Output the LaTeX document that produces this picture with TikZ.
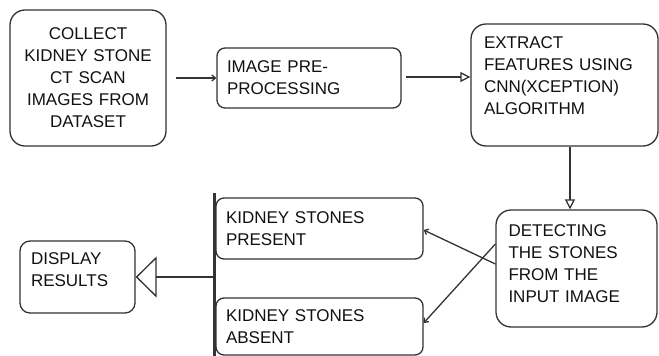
\documentclass[tikz,border=0pt]{standalone}
\usepackage{fontspec}
\setmainfont{Liberation Sans}
\usetikzlibrary{arrows.meta}
\newcommand\lowdepth[1]{\rule[-#1]{0pt}{#1}}
\definecolor{ink}{HTML}{333333}
\definecolor{txt}{HTML}{111111}
\begin{document}
\begin{tikzpicture}[x=1pt,y=-1pt,
  box/.style={draw=ink, line width=1.3pt, text=txt, align=left,
    font=\fontsize{17}{22}\selectfont, inner ysep=0pt},
  conn/.style={draw=ink, line width=1.3pt},
  smalltip/.style={-{Straight Barb[length=3.5pt,width=6pt]}},
  opentip/.style={-{Triangle[open,length=10pt,width=10pt]}}]
\useasboundingbox (0,0) rectangle (659,356);
\node[box, align=center, rounded corners=15pt, minimum width=156pt, minimum height=136pt,
  inner xsep=6pt, text width=144pt] (collect) at (88,78)
  {COLLECT\\KIDNEY STONE\\CT SCAN\\IMAGES FROM\\DATASET};
\node[box, rounded corners=8pt, minimum width=184pt, minimum height=60pt,
  inner xsep=10pt, text width=164pt] (pre) at (309,78)
  {IMAGE PRE-\\PROCESSING};
\node[box, rounded corners=15pt, minimum width=187pt, minimum height=122pt,
  inner xsep=13pt, text width=161pt] (extract) at (564.5,85)
  {EXTRACT\\FEATURES USING\\CNN(XCEPTION)\\ALGORITHM\lowdepth{18.6pt}};
\node[box, rounded corners=15pt, minimum width=161pt, minimum height=117pt,
  inner xsep=12.5pt, text width=136pt] (detect) at (576.5,268.5)
  {DETECTING\\THE STONES\\FROM THE\\INPUT IMAGE\lowdepth{10.6pt}};
\node[box, rounded corners=8pt, minimum width=207pt, minimum height=61pt,
  inner xsep=10pt, text width=187pt] (present) at (319.5,228.5)
  {KIDNEY STONES\\PRESENT};
\node[box, rounded corners=8pt, minimum width=207pt, minimum height=57pt,
  inner xsep=10pt, text width=187pt] (absent) at (319.5,326.5)
  {KIDNEY STONES\\ABSENT};
\node[box, rounded corners=10pt, minimum width=115pt, minimum height=72pt,
  inner xsep=11pt, text width=93pt] (display) at (77.5,277)
  {DISPLAY\\RESULTS\lowdepth{15.6pt}};
\coordinate (bartop) at (214,193);
\coordinate (barbot) at (214,356);
\coordinate (barmid) at (214,277);
\draw[conn, smalltip] ([xshift=9pt]collect.east) -- (pre.west);
\draw[conn, opentip] ([xshift=4pt,yshift=1pt]pre.east) -- ([yshift=1pt]pre.east -| extract.west);
\draw[conn, opentip] ([xshift=5.5pt]extract.south) -- ([xshift=-6.5pt]detect.north);
\draw[conn, smalltip] ([yshift=4.5pt]detect.west) -- ([yshift=-1.5pt]present.east);
\draw[conn, smalltip] ([yshift=24.5pt]detect.west) -- ([yshift=3.5pt]absent.east);
\draw[draw=ink, line width=3pt] (bartop) -- (barbot);
\draw[conn, -{Triangle[open,length=21pt,width=41pt]}] (barmid) -- (display.east);
\end{tikzpicture}
\end{document}
